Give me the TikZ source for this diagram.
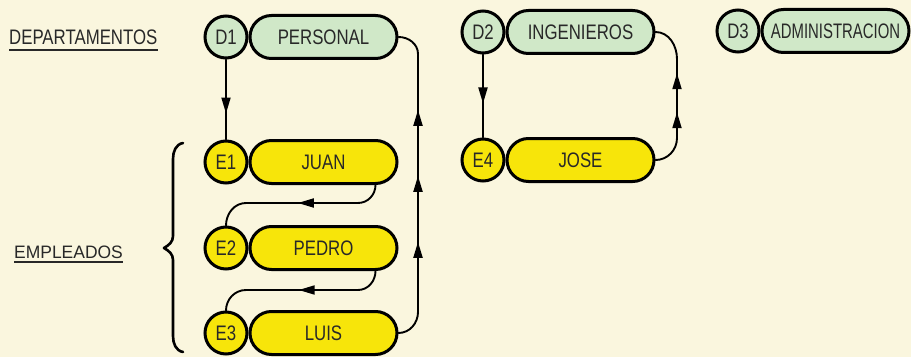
\documentclass[tikz,border=0pt]{standalone}
\usepackage{fontspec}
\newfontfamily\diagfont[FakeStretch=0.8]{Liberation Sans}
\newfontfamily\narrowfont[FakeStretch=0.71]{Liberation Sans}
\newfontfamily\widefont[FakeStretch=0.97]{Liberation Sans}
\usetikzlibrary{arrows.meta,positioning,decorations.markings}
\definecolor{PaperCream}{RGB}{250,246,222}
\definecolor{DeptGreen}{RGB}{208,232,200}
\definecolor{EmpYellow}{RGB}{247,229,10}
\definecolor{InkGray}{RGB}{40,40,40}
\newcommand{\nodefont}{\diagfont\fontsize{21}{24}\selectfont}

\begin{document}
\begin{tikzpicture}[x=1pt, y=1pt,
    >={Triangle[length=16pt,width=9pt]},
    idcirc/.style={circle, draw=black, line width=3pt, minimum size=42pt, inner sep=0pt, text=InkGray, font=\nodefont},
    deptid/.style={idcirc, fill=DeptGreen},
    empid/.style={idcirc, fill=EmpYellow},
    deptbox/.style={rectangle, rounded corners=21.5pt, draw=black, line width=3pt, fill=DeptGreen, minimum width=147pt, minimum height=43pt, inner sep=0pt, text=InkGray, font=\nodefont},
    empbox/.style={deptbox, fill=EmpYellow},
    connector/.style={line width=1.9pt, draw=black, line cap=round},
    tipat/.style={postaction={decorate}, decoration={markings, mark=at position #1 with {\arrow{>}}}},
    railtips/.style={postaction={decorate}, decoration={markings, mark=between positions #1 with {\arrow{>}}}},
    uline/.style={line width=2.6pt, draw=InkGray}
  ]
    \useasboundingbox (0,0) rectangle (911,357);
    \fill[PaperCream] (0,0) rectangle (911,357);

    % departamentos
    \node[deptid] (d1) at (226,320) {D1};
    \node[deptbox, right=0pt of d1] (personal) {PERSONAL};
    \node[deptid] (d2) at (483,325) {D2};
    \node[deptbox, right=0pt of d2] (ingenieros) {INGENIEROS};
    \node[deptid] (d3) at (738,326) {D3};
    \node[deptbox, right=0pt of d3, font=\narrowfont\fontsize{21}{24}\selectfont] (admin) {ADMINISTRACION};

    % empleados
    \node[empid] (e1) at (226,195) {E1};
    \node[empbox, right=0pt of e1] (juan) {JUAN};
    \node[empid] (e2) at (226,109) {E2};
    \node[empbox, right=0pt of e2] (pedro) {PEDRO};
    \node[empid] (e3) at (226,24) {E3};
    \node[empbox, right=0pt of e3] (luis) {LUIS};
    \node[empid] (e4) at (483,197) {E4};
    \node[empbox, right=0pt of e4] (jose) {JOSE};

    % labels
    \node[anchor=base west, inner sep=0pt, text=InkGray, font=\nodefont] (deptlabel) at (9,312) {DEPARTAMENTOS};
    \draw[uline] ([yshift=-5pt]deptlabel.base west) -- ([yshift=-5pt]deptlabel.base east);
    \node[anchor=base west, inner sep=0pt, text=InkGray, font=\widefont\fontsize{18}{20}\selectfont] (emplabel) at (14,99) {EMPLEADOS};
    \draw[uline] ([yshift=-4pt]emplabel.base west) -- ([yshift=-4pt]emplabel.base east);

    % brace
    \draw[line width=2.6pt, line cap=round, line join=round] (183,214) to[out=190,in=90] (173,198) -- (173,121)
      to[out=-90,in=30] (164,109) to[out=-30,in=90] (173,97) -- (173,21) to[out=-90,in=170] (183,5);

    % rail coordinates
    \coordinate (rail1 bottom) at (418,45);
    \coordinate (rail1 top) at (418,303);
    \coordinate (rail2 bottom) at (677,219);
    \coordinate (rail2 top) at (677,298);
    \coordinate (j1) at (358,154);
    \coordinate (j2) at (246,154);
    \coordinate (p1) at (358,67);
    \coordinate (p2) at (246,67);

    \draw[connector, tipat=54pt] (d1.south) -- (e1.north);
    \draw[connector, tipat=49pt] (d2.south) -- (e4.north);
    \draw[connector, tipat=88pt] ([xshift=-23pt]juan.south east) to[out=-90,in=0] (j1) -- (j2) to[out=180,in=90] (e2.north);
    \draw[connector, tipat=88pt] ([xshift=-23pt]pedro.south east) to[out=-90,in=0] (p1) -- (p2) to[out=180,in=90] (e3.north);
    \draw[connector, railtips={102pt and 234pt step 66pt}] (luis.east) to[out=0,in=-90] (rail1 bottom) -- (rail1 top) to[out=90,in=0] (personal.east);
    \draw[connector, railtips={60pt and 99pt step 39pt}] (jose.east) to[out=0,in=-90] (rail2 bottom) -- (rail2 top) to[out=90,in=0] (ingenieros.east);
  \end{tikzpicture}
\end{document}
